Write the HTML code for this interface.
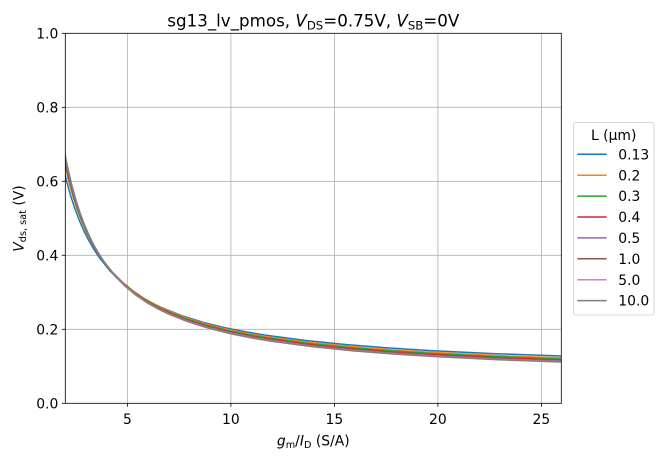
<!DOCTYPE html>
<html><head><meta charset="utf-8"><style>
html,body{margin:0;padding:0;background:#fff;}
svg{display:block;font-family:"DejaVu Sans","Liberation Sans",sans-serif;}
</style></head><body>
<svg width="663" height="460" viewBox="0 0 663 460" xmlns="http://www.w3.org/2000/svg">
<defs>
<clipPath id="clip"><rect x="65.3" y="33.3" width="496" height="370"/></clipPath>
</defs>
<rect x="0" y="0" width="663" height="460" fill="#fff"/>
<!-- grid -->
<g stroke="#b0b0b0" stroke-width="0.8" fill="none">
<line x1="127.4" y1="33.3" x2="127.4" y2="403.3"/>
<line x1="230.9" y1="33.3" x2="230.9" y2="403.3"/>
<line x1="334.4" y1="33.3" x2="334.4" y2="403.3"/>
<line x1="437.9" y1="33.3" x2="437.9" y2="403.3"/>
<line x1="541.4" y1="33.3" x2="541.4" y2="403.3"/>
<line x1="65.3" y1="329.3" x2="561.3" y2="329.3"/>
<line x1="65.3" y1="255.3" x2="561.3" y2="255.3"/>
<line x1="65.3" y1="181.3" x2="561.3" y2="181.3"/>
<line x1="65.3" y1="107.3" x2="561.3" y2="107.3"/>
</g>
<!-- curves -->
<g clip-path="url(#clip)" fill="none" stroke-width="1.5" stroke-linejoin="round" stroke-linecap="square">
<path vector-effect="non-scaling-stroke" stroke="#1f77b4" transform="matrix(20.7,0,0,-462.5,16.862,373.7)" d="M1.9,0.526316 L2,0.5 L2.1,0.47619 L2.2,0.454545 L2.4,0.416667 L2.6,0.384615 L2.8,0.357143 L3,0.333333 L3.25,0.307692 L3.5,0.285714 L3.75,0.266667 L4,0.25 L4.5,0.222222 L5,0.2 L5.5,0.181818 L6,0.166667 L6.5,0.153846 L7,0.142857 L8,0.125 L9,0.111111 L10,0.1 L11,0.090909 L12,0.083333 L14,0.071429 L16,0.0625 L18,0.055556 L20,0.05 L23,0.043478 L27,0.037037"/>
<path vector-effect="non-scaling-stroke" stroke="#ff7f0e" transform="matrix(20.7,0,0,-469.9,18.725,375.92)" d="M1.9,0.526316 L2,0.5 L2.1,0.47619 L2.2,0.454545 L2.4,0.416667 L2.6,0.384615 L2.8,0.357143 L3,0.333333 L3.25,0.307692 L3.5,0.285714 L3.75,0.266667 L4,0.25 L4.5,0.222222 L5,0.2 L5.5,0.181818 L6,0.166667 L6.5,0.153846 L7,0.142857 L8,0.125 L9,0.111111 L10,0.1 L11,0.090909 L12,0.083333 L14,0.071429 L16,0.0625 L18,0.055556 L20,0.05 L23,0.043478 L27,0.037037"/>
<path vector-effect="non-scaling-stroke" stroke="#2ca02c" transform="matrix(20.7,0,0,-468.05,19.76,377.03)" d="M1.9,0.526316 L2,0.5 L2.1,0.47619 L2.2,0.454545 L2.4,0.416667 L2.6,0.384615 L2.8,0.357143 L3,0.333333 L3.25,0.307692 L3.5,0.285714 L3.75,0.266667 L4,0.25 L4.5,0.222222 L5,0.2 L5.5,0.181818 L6,0.166667 L6.5,0.153846 L7,0.142857 L8,0.125 L9,0.111111 L10,0.1 L11,0.090909 L12,0.083333 L14,0.071429 L16,0.0625 L18,0.055556 L20,0.05 L23,0.043478 L27,0.037037"/>
<path vector-effect="non-scaling-stroke" stroke="#d62728" transform="matrix(20.7,0,0,-466.94,20.795,378.14)" d="M1.9,0.526316 L2,0.5 L2.1,0.47619 L2.2,0.454545 L2.4,0.416667 L2.6,0.384615 L2.8,0.357143 L3,0.333333 L3.25,0.307692 L3.5,0.285714 L3.75,0.266667 L4,0.25 L4.5,0.222222 L5,0.2 L5.5,0.181818 L6,0.166667 L6.5,0.153846 L7,0.142857 L8,0.125 L9,0.111111 L10,0.1 L11,0.090909 L12,0.083333 L14,0.071429 L16,0.0625 L18,0.055556 L20,0.05 L23,0.043478 L27,0.037037"/>
<path vector-effect="non-scaling-stroke" stroke="#9467bd" transform="matrix(20.7,0,0,-466.2,21.416,378.88)" d="M1.9,0.526316 L2,0.5 L2.1,0.47619 L2.2,0.454545 L2.4,0.416667 L2.6,0.384615 L2.8,0.357143 L3,0.333333 L3.25,0.307692 L3.5,0.285714 L3.75,0.266667 L4,0.25 L4.5,0.222222 L5,0.2 L5.5,0.181818 L6,0.166667 L6.5,0.153846 L7,0.142857 L8,0.125 L9,0.111111 L10,0.1 L11,0.090909 L12,0.083333 L14,0.071429 L16,0.0625 L18,0.055556 L20,0.05 L23,0.043478 L27,0.037037"/>
<path vector-effect="non-scaling-stroke" stroke="#8c564b" transform="matrix(20.7,0,0,-466.2,21.83,379.25)" d="M1.9,0.526316 L2,0.5 L2.1,0.47619 L2.2,0.454545 L2.4,0.416667 L2.6,0.384615 L2.8,0.357143 L3,0.333333 L3.25,0.307692 L3.5,0.285714 L3.75,0.266667 L4,0.25 L4.5,0.222222 L5,0.2 L5.5,0.181818 L6,0.166667 L6.5,0.153846 L7,0.142857 L8,0.125 L9,0.111111 L10,0.1 L11,0.090909 L12,0.083333 L14,0.071429 L16,0.0625 L18,0.055556 L20,0.05 L23,0.043478 L27,0.037037"/>
<path vector-effect="non-scaling-stroke" stroke="#e377c2" transform="matrix(20.7,0,0,-466.2,22.14,379.62)" d="M1.9,0.526316 L2,0.5 L2.1,0.47619 L2.2,0.454545 L2.4,0.416667 L2.6,0.384615 L2.8,0.357143 L3,0.333333 L3.25,0.307692 L3.5,0.285714 L3.75,0.266667 L4,0.25 L4.5,0.222222 L5,0.2 L5.5,0.181818 L6,0.166667 L6.5,0.153846 L7,0.142857 L8,0.125 L9,0.111111 L10,0.1 L11,0.090909 L12,0.083333 L14,0.071429 L16,0.0625 L18,0.055556 L20,0.05 L23,0.043478 L27,0.037037"/>
<path vector-effect="non-scaling-stroke" stroke="#7f7f7f" transform="matrix(20.7,0,0,-466.2,22.18,379.99)" d="M1.9,0.526316 L2,0.5 L2.1,0.47619 L2.2,0.454545 L2.4,0.416667 L2.6,0.384615 L2.8,0.357143 L3,0.333333 L3.25,0.307692 L3.5,0.285714 L3.75,0.266667 L4,0.25 L4.5,0.222222 L5,0.2 L5.5,0.181818 L6,0.166667 L6.5,0.153846 L7,0.142857 L8,0.125 L9,0.111111 L10,0.1 L11,0.090909 L12,0.083333 L14,0.071429 L16,0.0625 L18,0.055556 L20,0.05 L23,0.043478 L27,0.037037"/>
</g>
<!-- axes frame -->
<rect x="65.3" y="33.3" width="496" height="370" fill="none" stroke="#000" stroke-width="0.8"/>
<!-- ticks -->
<g stroke="#000" stroke-width="0.8">
<line x1="127.4" y1="403.3" x2="127.4" y2="406.8"/>
<line x1="230.9" y1="403.3" x2="230.9" y2="406.8"/>
<line x1="334.4" y1="403.3" x2="334.4" y2="406.8"/>
<line x1="437.9" y1="403.3" x2="437.9" y2="406.8"/>
<line x1="541.4" y1="403.3" x2="541.4" y2="406.8"/>
<line x1="61.8" y1="403.3" x2="65.3" y2="403.3"/>
<line x1="61.8" y1="329.3" x2="65.3" y2="329.3"/>
<line x1="61.8" y1="255.3" x2="65.3" y2="255.3"/>
<line x1="61.8" y1="181.3" x2="65.3" y2="181.3"/>
<line x1="61.8" y1="107.3" x2="65.3" y2="107.3"/>
<line x1="61.8" y1="33.3" x2="65.3" y2="33.3"/>
</g>
<g font-size="13.9" fill="#000">
<g text-anchor="middle">
<text x="127.4" y="424">5</text>
<text x="230.9" y="424">10</text>
<text x="334.4" y="424">15</text>
<text x="437.9" y="424">20</text>
<text x="541.4" y="424">25</text>
</g>
<g text-anchor="end">
<text x="58.3" y="408.4">0.0</text>
<text x="58.3" y="334.4">0.2</text>
<text x="58.3" y="260.4">0.4</text>
<text x="58.3" y="186.4">0.6</text>
<text x="58.3" y="112.4">0.8</text>
<text x="58.3" y="38.4">1.0</text>
</g>
</g>
<!-- title -->
<text x="313.3" y="26.5" font-size="16.7" text-anchor="middle">sg13_lv_pmos, <tspan font-style="italic">V</tspan><tspan font-size="11.7" dy="3">DS</tspan><tspan dy="-3">=0.75V, </tspan><tspan font-style="italic">V</tspan><tspan font-size="11.7" dy="3">SB</tspan><tspan dy="-3">=0V</tspan></text>
<!-- x label -->
<text x="313.3" y="445.5" font-size="13.9" text-anchor="middle"><tspan font-style="italic">g</tspan><tspan font-size="9.7" dy="2.5">m</tspan><tspan dy="-2.5">/</tspan><tspan font-style="italic">I</tspan><tspan font-size="9.7" dy="2.5">D</tspan><tspan dy="-2.5"> (S/A)</tspan></text>
<!-- y label -->
<text transform="translate(23.5,218.5) rotate(-90)" x="0" y="0" font-size="13.9" text-anchor="middle"><tspan font-style="italic">V</tspan><tspan font-size="9.7" dy="2.5">ds, sat</tspan><tspan dy="-2.5"> (V)</tspan></text>
<!-- legend -->
<rect x="573.5" y="122.5" width="80.5" height="192.5" rx="2.5" ry="2.5" fill="#fff" fill-opacity="0.8" stroke="#cccccc" stroke-width="0.8"/>
<text x="613.7" y="140" font-size="13.9" text-anchor="middle">L (μm)</text>
<g stroke-width="1.5">
<line x1="577.3" y1="154.3" x2="606.7" y2="154.3" stroke="#1f77b4"/>
<line x1="577.3" y1="175.2" x2="606.7" y2="175.2" stroke="#ff7f0e"/>
<line x1="577.3" y1="196.1" x2="606.7" y2="196.1" stroke="#2ca02c"/>
<line x1="577.3" y1="217.0" x2="606.7" y2="217.0" stroke="#d62728"/>
<line x1="577.3" y1="237.9" x2="606.7" y2="237.9" stroke="#9467bd"/>
<line x1="577.3" y1="258.8" x2="606.7" y2="258.8" stroke="#8c564b"/>
<line x1="577.3" y1="279.7" x2="606.7" y2="279.7" stroke="#e377c2"/>
<line x1="577.3" y1="300.6" x2="606.7" y2="300.6" stroke="#7f7f7f"/>
</g>
<g font-size="13.9">
<text x="618.3" y="159.4">0.13</text>
<text x="618.3" y="180.3">0.2</text>
<text x="618.3" y="201.2">0.3</text>
<text x="618.3" y="222.1">0.4</text>
<text x="618.3" y="243.0">0.5</text>
<text x="618.3" y="263.9">1.0</text>
<text x="618.3" y="284.8">5.0</text>
<text x="618.3" y="305.7">10.0</text>
</g>
</svg>
</body></html>
